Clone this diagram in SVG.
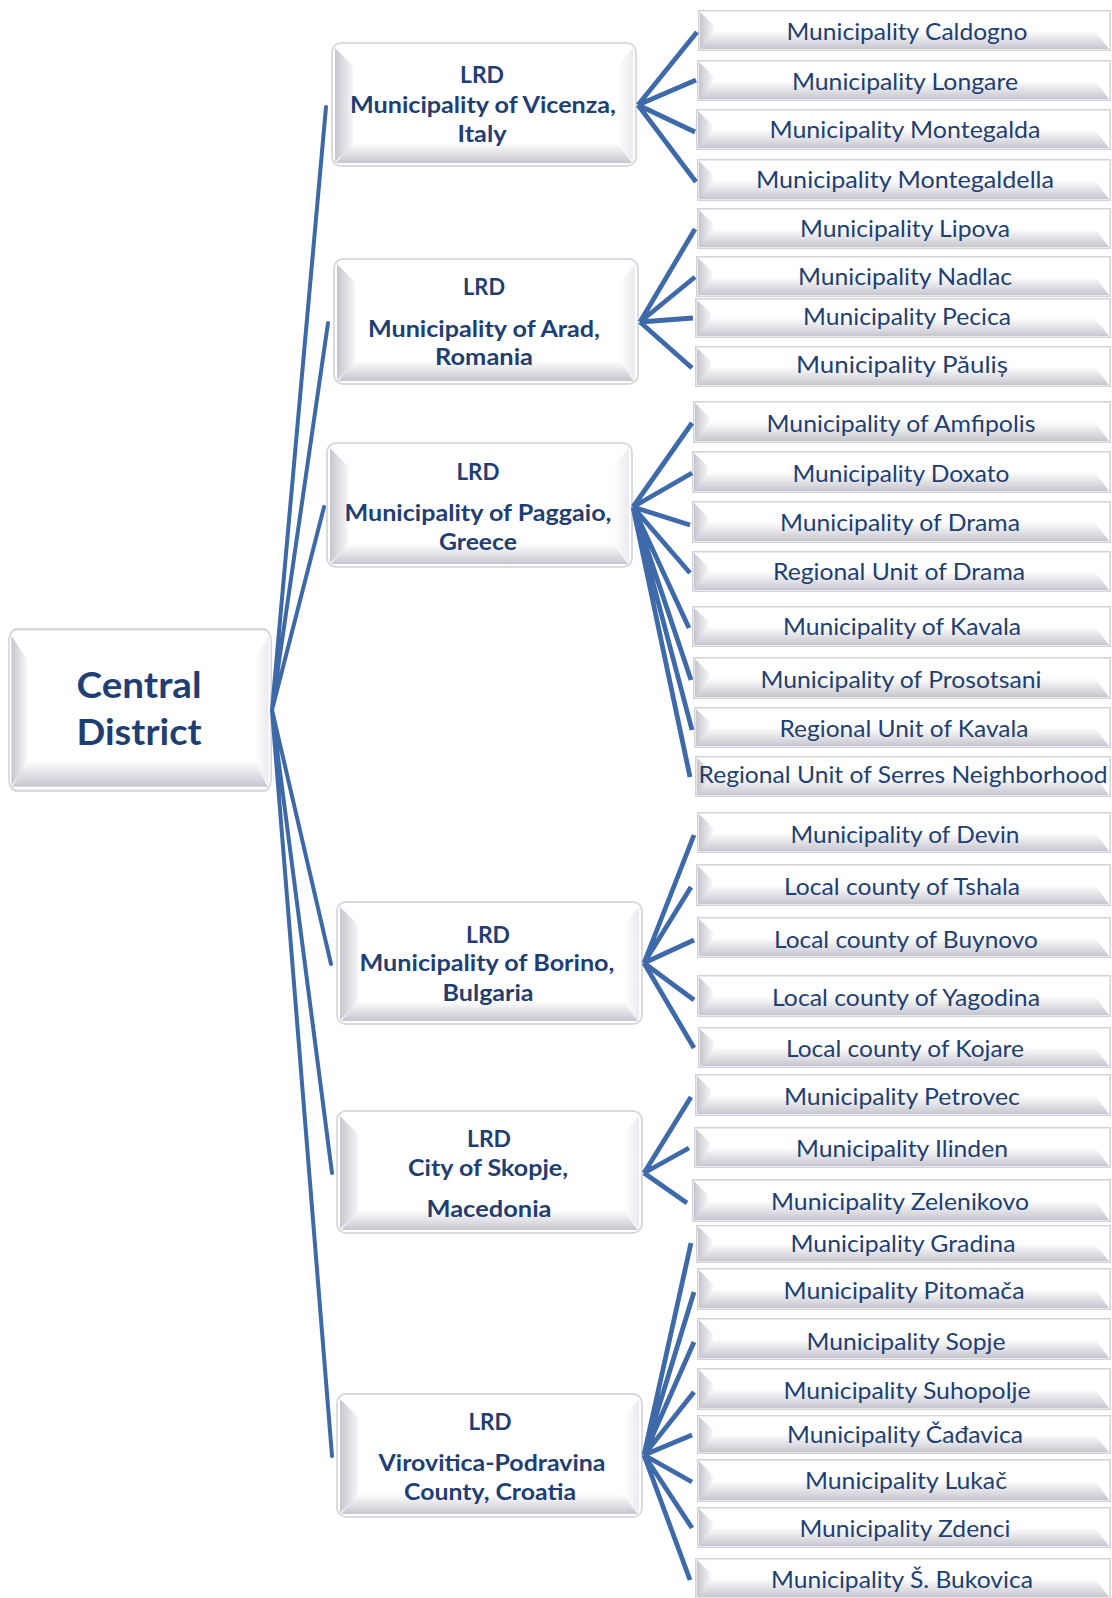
<svg xmlns="http://www.w3.org/2000/svg" xmlns:xlink="http://www.w3.org/1999/xlink" width="1112" height="1598" viewBox="0 0 1112 1598">
<style>
.ct{font-family:Lato,"Open Sans","Liberation Sans",sans-serif;font-size:24px;fill:#213f73;text-anchor:middle}
.lt{font-family:Lato,"Open Sans","Liberation Sans",sans-serif;font-size:22px;font-weight:bold;fill:#1f3e73;text-anchor:middle}
.rt{font-family:Lato,"Open Sans","Liberation Sans",sans-serif;font-size:37px;font-weight:bold;fill:#1f3e73;text-anchor:middle}
.main{stroke:#3e69a7;stroke-width:4;fill:none;stroke-linecap:round}
.br{stroke:#3f6aa9;stroke-width:4.8;fill:none;stroke-linecap:butt}
</style>
<defs>
<linearGradient id="gL" x1="0" y1="0" x2="1" y2="0"><stop offset="0" stop-color="#c6c6ce"/><stop offset="1" stop-color="#f6f6f8"/></linearGradient>
<linearGradient id="gB" x1="0" y1="0" x2="0" y2="1"><stop offset="0" stop-color="#ffffff"/><stop offset="1" stop-color="#c6c6cf"/></linearGradient>
<linearGradient id="gR" x1="0" y1="0" x2="1" y2="0"><stop offset="0" stop-color="#ffffff"/><stop offset="1" stop-color="#ebebef"/></linearGradient>
<symbol id="cbox" viewBox="0 0 414 42" preserveAspectRatio="none">
<rect x="0.75" y="0.75" width="412.5" height="40.5" fill="#fff" stroke="#d2d2d8" stroke-width="1.5"/>
<polygon points="2,2 16,16 16,26 2,40" fill="url(#gL)"/>
<polygon points="2,40 16,21 398,21 412,40" fill="url(#gB)"/>
</symbol>
<symbol id="lbox" viewBox="0 0 306 125" preserveAspectRatio="none">
<rect x="1" y="1" width="304" height="123" rx="9" fill="#fff" stroke="#d9d9de" stroke-width="2"/>
<polygon points="4,6 22,24 22,103 4,120" fill="url(#gL)"/>
<polygon points="302,6 286,24 286,103 302,120" fill="url(#gR)"/>
<polygon points="5,121 22,101 286,101 301,121" fill="url(#gB)"/>
</symbol>
</defs>
<rect width="1112" height="1598" fill="#fff"/>

<g id="n-central">
<use xlink:href="#lbox" href="#lbox" x="8" y="628" width="264" height="164"/>
<text class="rt" x="139" y="698" textLength="125" lengthAdjust="spacingAndGlyphs">Central</text>
<text class="rt" x="139" y="745" textLength="125" lengthAdjust="spacingAndGlyphs">District</text>
</g>

<g id="n-vicenza">
<use href="#lbox" x="331" y="42" width="306" height="125"/>
<text class="lt" x="482" y="83" textLength="44" lengthAdjust="spacingAndGlyphs">LRD</text>
<text class="lt" x="483" y="113" textLength="266" lengthAdjust="spacingAndGlyphs">Municipality of Vicenza,</text>
<text class="lt" x="482" y="142" textLength="49" lengthAdjust="spacingAndGlyphs">Italy</text>
</g>
<g id="n-arad">
<use href="#lbox" x="333" y="258" width="306" height="127"/>
<text class="lt" x="484" y="295" textLength="42" lengthAdjust="spacingAndGlyphs">LRD</text>
<text class="lt" x="484" y="337" textLength="232" lengthAdjust="spacingAndGlyphs">Municipality of Arad,</text>
<text class="lt" x="484" y="365" textLength="98" lengthAdjust="spacingAndGlyphs">Romania</text>
</g>
<g id="n-paggaio">
<use href="#lbox" x="326" y="442" width="307" height="126"/>
<text class="lt" x="478" y="480" textLength="43" lengthAdjust="spacingAndGlyphs">LRD</text>
<text class="lt" x="478" y="521" textLength="267" lengthAdjust="spacingAndGlyphs">Municipality of Paggaio,</text>
<text class="lt" x="478" y="550" textLength="78" lengthAdjust="spacingAndGlyphs">Greece</text>
</g>
<g id="n-borino">
<use href="#lbox" x="336" y="901" width="307" height="124"/>
<text class="lt" x="488" y="943" textLength="44" lengthAdjust="spacingAndGlyphs">LRD</text>
<text class="lt" x="487" y="971" textLength="255" lengthAdjust="spacingAndGlyphs">Municipality of Borino,</text>
<text class="lt" x="488" y="1001" textLength="91" lengthAdjust="spacingAndGlyphs">Bulgaria</text>
</g>
<g id="n-skopje">
<use href="#lbox" x="336" y="1110" width="307" height="124"/>
<text class="lt" x="489" y="1147" textLength="44" lengthAdjust="spacingAndGlyphs">LRD</text>
<text class="lt" x="488" y="1176" textLength="160" lengthAdjust="spacingAndGlyphs">City of Skopje,</text>
<text class="lt" x="489" y="1217" textLength="125" lengthAdjust="spacingAndGlyphs">Macedonia</text>
</g>
<g id="n-virovitica">
<use href="#lbox" x="336" y="1393" width="307" height="125"/>
<text class="lt" x="490" y="1430" textLength="43" lengthAdjust="spacingAndGlyphs">LRD</text>
<text class="lt" x="492" y="1471" textLength="227" lengthAdjust="spacingAndGlyphs">Virovitica-Podravina</text>
<text class="lt" x="490" y="1500" textLength="172" lengthAdjust="spacingAndGlyphs">County, Croatia</text>
</g>

<g id="n-caldogno"><use href="#cbox" x="698" y="10" width="413" height="41"/><text class="ct" x="907" y="40" textLength="241" lengthAdjust="spacingAndGlyphs">Municipality Caldogno</text></g>
<g id="n-longare"><use href="#cbox" x="697" y="60" width="414" height="41"/><text class="ct" x="905" y="90" textLength="226" lengthAdjust="spacingAndGlyphs">Municipality Longare</text></g>
<g id="n-montegalda"><use href="#cbox" x="696" y="109" width="415" height="41"/><text class="ct" x="905" y="138" textLength="271" lengthAdjust="spacingAndGlyphs">Municipality Montegalda</text></g>
<g id="n-montegaldella"><use href="#cbox" x="697" y="159" width="414" height="42"/><text class="ct" x="905" y="188" textLength="298" lengthAdjust="spacingAndGlyphs">Municipality Montegaldella</text></g>
<g id="n-lipova"><use href="#cbox" x="697" y="208" width="414" height="41"/><text class="ct" x="905" y="237" textLength="210" lengthAdjust="spacingAndGlyphs">Municipality Lipova</text></g>
<g id="n-nadlac"><use href="#cbox" x="696" y="256" width="415" height="41"/><text class="ct" x="905" y="285" textLength="214" lengthAdjust="spacingAndGlyphs">Municipality Nadlac</text></g>
<g id="n-pecica"><use href="#cbox" x="695" y="298" width="416" height="40"/><text class="ct" x="907" y="325" textLength="208" lengthAdjust="spacingAndGlyphs">Municipality Pecica</text></g>
<g id="n-paulis"><use href="#cbox" x="695" y="346" width="416" height="41"/><text class="ct" x="902" y="373" textLength="212" lengthAdjust="spacingAndGlyphs">Municipality Păuliș</text></g>

<g id="n-amfipolis"><use href="#cbox" x="693" y="401" width="418" height="42"/><text class="ct" x="901" y="432" textLength="269" lengthAdjust="spacingAndGlyphs">Municipality of Amfipolis</text></g>
<g id="n-doxato"><use href="#cbox" x="692" y="451" width="419" height="42"/><text class="ct" x="901" y="482" textLength="217" lengthAdjust="spacingAndGlyphs">Municipality Doxato</text></g>
<g id="n-mdrama"><use href="#cbox" x="692" y="501" width="419" height="42"/><text class="ct" x="900" y="531" textLength="240" lengthAdjust="spacingAndGlyphs">Municipality of Drama</text></g>
<g id="n-rdrama"><use href="#cbox" x="692" y="551" width="419" height="41"/><text class="ct" x="899" y="580" textLength="252" lengthAdjust="spacingAndGlyphs">Regional Unit of Drama</text></g>
<g id="n-mkavala"><use href="#cbox" x="692" y="606" width="419" height="41"/><text class="ct" x="902" y="635" textLength="238" lengthAdjust="spacingAndGlyphs">Municipality of Kavala</text></g>
<g id="n-prosotsani"><use href="#cbox" x="693" y="657" width="418" height="42"/><text class="ct" x="901" y="688" textLength="281" lengthAdjust="spacingAndGlyphs">Municipality of Prosotsani</text></g>
<g id="n-rkavala"><use href="#cbox" x="694" y="707" width="417" height="41"/><text class="ct" x="904" y="737" textLength="249" lengthAdjust="spacingAndGlyphs">Regional Unit of Kavala</text></g>
<g id="n-serres"><use href="#cbox" x="695" y="756" width="416" height="41"/><text class="ct" x="903" y="783" textLength="409" lengthAdjust="spacingAndGlyphs">Regional Unit of Serres Neighborhood</text></g>

<g id="n-devin"><use href="#cbox" x="697" y="812" width="414" height="41"/><text class="ct" x="905" y="843" textLength="229" lengthAdjust="spacingAndGlyphs">Municipality of Devin</text></g>
<g id="n-tshala"><use href="#cbox" x="696" y="864" width="415" height="42"/><text class="ct" x="902" y="895" textLength="236" lengthAdjust="spacingAndGlyphs">Local county of Tshala</text></g>
<g id="n-buynovo"><use href="#cbox" x="697" y="917" width="414" height="41"/><text class="ct" x="906" y="948" textLength="264" lengthAdjust="spacingAndGlyphs">Local county of Buynovo</text></g>
<g id="n-yagodina"><use href="#cbox" x="697" y="975" width="414" height="42"/><text class="ct" x="906" y="1006" textLength="268" lengthAdjust="spacingAndGlyphs">Local county of Yagodina</text></g>
<g id="n-kojare"><use href="#cbox" x="698" y="1027" width="413" height="41"/><text class="ct" x="905" y="1057" textLength="238" lengthAdjust="spacingAndGlyphs">Local county of Kojare</text></g>
<g id="n-petrovec"><use href="#cbox" x="695" y="1074" width="416" height="42"/><text class="ct" x="902" y="1105" textLength="236" lengthAdjust="spacingAndGlyphs">Municipality Petrovec</text></g>
<g id="n-ilinden"><use href="#cbox" x="694" y="1127" width="417" height="41"/><text class="ct" x="902" y="1157" textLength="212" lengthAdjust="spacingAndGlyphs">Municipality Ilinden</text></g>
<g id="n-zelenikovo"><use href="#cbox" x="692" y="1179" width="419" height="43"/><text class="ct" x="900" y="1210" textLength="258" lengthAdjust="spacingAndGlyphs">Municipality Zelenikovo</text></g>

<g id="n-gradina"><use href="#cbox" x="696" y="1225" width="415" height="38"/><text class="ct" x="903" y="1252" textLength="225" lengthAdjust="spacingAndGlyphs">Municipality Gradina</text></g>
<g id="n-pitomaca"><use href="#cbox" x="697" y="1268" width="414" height="42"/><text class="ct" x="904" y="1299" textLength="241" lengthAdjust="spacingAndGlyphs">Municipality Pitomača</text></g>
<g id="n-sopje"><use href="#cbox" x="697" y="1318" width="414" height="42"/><text class="ct" x="906" y="1350" textLength="199" lengthAdjust="spacingAndGlyphs">Municipality Sopje</text></g>
<g id="n-suhopolje"><use href="#cbox" x="697" y="1368" width="414" height="42"/><text class="ct" x="907" y="1399" textLength="247" lengthAdjust="spacingAndGlyphs">Municipality Suhopolje</text></g>
<g id="n-cadavica"><use href="#cbox" x="697" y="1415" width="414" height="39"/><text class="ct" x="905" y="1443" textLength="236" lengthAdjust="spacingAndGlyphs">Municipality Čađavica</text></g>
<g id="n-lukac"><use href="#cbox" x="697" y="1459" width="414" height="43"/><text class="ct" x="906" y="1489" textLength="202" lengthAdjust="spacingAndGlyphs">Municipality Lukač</text></g>
<g id="n-zdenci"><use href="#cbox" x="697" y="1507" width="414" height="41"/><text class="ct" x="905" y="1537" textLength="211" lengthAdjust="spacingAndGlyphs">Municipality Zdenci</text></g>
<g id="n-bukovica"><use href="#cbox" x="695" y="1558" width="416" height="41"/><text class="ct" x="902" y="1588" textLength="262" lengthAdjust="spacingAndGlyphs">Municipality Š. Bukovica</text></g>

<g id="connectors">
<path class="main" d="M272,710 L326,107 M272,710 L328,323 M272,710 L324,507 M272,710 L331,964 M272,710 L332,1173 M272,710 L332,1456"/>
<path class="br" d="M638,105 L697,32 M638,105 L696,80 M638,105 L695,132 M638,105 L696,182"/>
<path class="br" d="M640,322 L695,229 M640,322 L695,277 M640,322 L693,318 M640,322 L692,368"/>
<path class="br" d="M633,507 L692,423 M633,507 L692,473 M633,507 L690,525 M633,507 L690,573 M633,507 L689,628 M633,507 L691,680 M633,507 L692,730 M633,507 L690,777"/>
<path class="br" d="M644,963 L694,835 M644,963 L691,887 M644,963 L694,940 M644,963 L694,1000 M644,963 L694,1048"/>
<path class="br" d="M644,1173 L691,1097 M644,1173 L689,1148 M644,1173 L687,1203"/>
<path class="br" d="M644,1455 L691,1243 M644,1455 L694,1292 M644,1455 L694,1342 M644,1455 L694,1392 M644,1455 L692,1435 M644,1455 L692,1482 M644,1455 L692,1528 M644,1455 L690,1580"/>
</g>
</svg>
